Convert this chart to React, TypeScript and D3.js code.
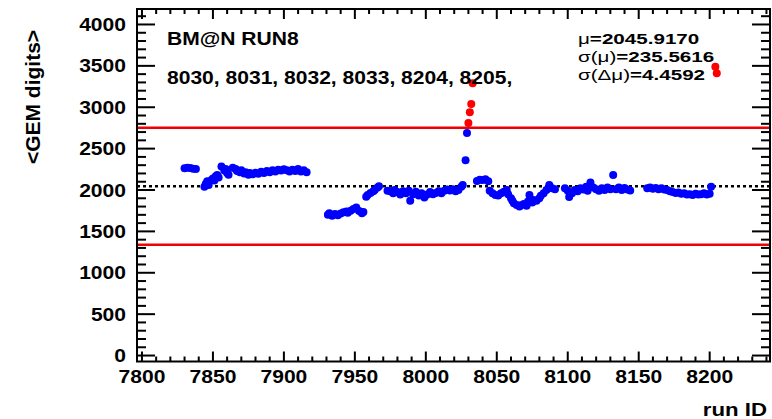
import React from "react";
import * as d3 from "d3";

// ---- data ----
const blueRuns = [
  7830, 7832, 7834, 7836, 7838,
  7844, 7845, 7846, 7847, 7849, 7850, 7851, 7852, 7853, 7854,
  7856, 7858, 7859, 7860, 7861,
  7864, 7866, 7867, 7869, 7870, 7872, 7873, 7875, 7876, 7878, 7880, 7882, 7884, 7886, 7888, 7890, 7892, 7894, 7896, 7898, 7900, 7902, 7904, 7906, 7908, 7910, 7912, 7914, 7916,
  7931, 7932, 7934, 7936, 7938, 7940, 7942, 7944, 7945, 7947, 7949, 7951, 7953, 7955, 7956,
  7958, 7959, 7961, 7963, 7964, 7966, 7967,
  7973, 7975, 7977, 7978, 7980, 7982, 7984, 7986, 7988, 7989, 7991, 7993, 7995, 7997, 7999, 8001, 8003, 8005, 8007, 8009, 8011, 8013, 8015, 8017, 8019, 8021, 8023, 8025, 8026,
  8028, 8029,
  8036, 8038, 8040, 8042, 8044,
  8045, 8047, 8049, 8051, 8053, 8055, 8057, 8058,
  8060, 8061, 8062, 8064, 8066, 8067, 8069, 8071, 8072, 8073, 8075, 8076, 8078, 8080, 8081, 8083, 8085, 8087, 8089, 8091,
  8098, 8100, 8101, 8103, 8105, 8107, 8109, 8111, 8113, 8114, 8116, 8118, 8120, 8122, 8124, 8126, 8128, 8130, 8132, 8134, 8136, 8138, 8140, 8142, 8144,
  8156, 8158, 8160, 8162, 8164, 8166, 8168, 8170, 8172, 8174, 8176, 8178, 8180, 8182, 8184, 8186, 8188, 8190, 8192, 8194, 8196, 8198, 8200, 8201,
];
const blueDigits = [
  2262, 2268, 2265, 2258, 2255,
  2040, 2075, 2105, 2060, 2120, 2140, 2115, 2165, 2180, 2150,
  2285, 2235, 2255, 2205, 2185,
  2270, 2255, 2230, 2215, 2240, 2200, 2215, 2185, 2205, 2190, 2210, 2195, 2220, 2205, 2230, 2215, 2240, 2225, 2245, 2235, 2250, 2240, 2225, 2245, 2230, 2255, 2225, 2240, 2215,
  1700, 1720, 1690, 1710, 1695, 1715, 1730, 1740, 1725, 1750, 1770, 1790, 1745, 1720, 1735,
  1920, 1940, 1965, 1985, 2000, 2030, 2045,
  1990, 1985, 1960, 2000, 1975, 1945, 1985, 1960, 1990, 1870, 1950, 1980, 1935, 1960, 1910, 1945, 1975, 1950, 1965, 1985, 1960, 1990, 2005, 1995, 2010, 1985, 2000, 2040, 2060,
  2360, 2690,
  2110, 2125, 2120, 2130, 2105,
  1990, 1960, 1940, 1935, 1960, 1980, 2000, 1950,
  1900, 1870, 1840, 1820, 1800, 1815, 1830, 1810, 1860, 1940, 1850, 1880, 1870, 1900, 1930, 1960, 2000, 2060, 2020, 2010,
  2020, 1990, 1915, 1960, 2000, 1985, 2020, 2005, 2040, 1990, 2090, 2030, 2010, 1990, 2020, 2000, 2030, 2010, 2180, 2010, 2030, 2000, 2025, 2005, 1995,
  2020, 2030, 2015, 2025, 2010, 2020, 2005, 2000, 1985, 1975, 1965, 1970, 1955, 1960, 1945, 1950, 1940, 1955, 1945, 1950, 1960, 1945, 1955, 2040,
];
const redRuns = [8030, 8031, 8032, 8033, 8204, 8205];
const redDigits = [2810, 2940, 3040, 3290, 3490, 3410];

const meanValue = 2045.917;
const sigmaValue = 235.5616;
const xTickValues = [7800, 7850, 7900, 7950, 8000, 8050, 8100, 8150, 8200];
const yTickValues = [0, 500, 1000, 1500, 2000, 2500, 3000, 3500, 4000];

// ---- layout ----
const W = 772;
const H = 419;
const L = 137, R = 770, T = 9, B = 361.5;
const SX = 1.17;
const FONT = "'Liberation Sans', Arial, Helvetica, sans-serif";

const x = d3.scaleLinear().domain([7796.5, 8242.5]).range([L, R]);
const y = d3.scaleLinear().domain([-72, 4187]).range([B, T]);

const xMinor = d3.range(7800, 8242, 10).filter((v) => v % 50 !== 0);
const yMinor = d3.range(0, 4187, 100).filter((v) => v % 500 !== 0);

function Txt(props: { x: number; y: number; anchor?: string; size: number; children: any; weight?: string | number; sx?: number }) {
  return (
    <text
      transform={`translate(${props.x},${props.y}) scale(${props.sx ?? SX},1)`}
      textAnchor={props.anchor || "start"}
      fontSize={props.size}
      fontWeight={props.weight ?? "bold"}
      fontFamily={FONT}
      fill="#000"
    >
      {props.children}
    </text>
  );
}

export default function App() {
  const upper = meanValue + 3 * sigmaValue;
  const lower = meanValue - 3 * sigmaValue;
  return (
    <svg width={W} height={H} style={{ position: "absolute", left: 0, top: 0, background: "#fff" }}>
      <rect x={0} y={0} width={W} height={H} fill="#fff" />
      {/* reference lines */}
      <line x1={L} x2={R} y1={y(upper)} y2={y(upper)} stroke="#f00000" strokeWidth={2.5} />
      <line x1={L} x2={R} y1={y(lower)} y2={y(lower)} stroke="#f00000" strokeWidth={2.5} />
      <line x1={L} x2={R} y1={y(meanValue)} y2={y(meanValue)} stroke="#000" strokeWidth={2.5} strokeDasharray="3,3" />

      {/* points */}
      {blueRuns.map((r, i) => (
        <circle key={"b" + i} cx={x(r)} cy={y(blueDigits[i])} r={4} fill="#0000ff" />
      ))}
      {redRuns.map((r, i) => (
        <circle key={"r" + i} cx={x(r)} cy={y(redDigits[i])} r={4} fill="#ff0000" />
      ))}

      {/* frame */}
      <rect x={L} y={T} width={R - L} height={B - T} fill="none" stroke="#000" strokeWidth={2} />

      {/* x ticks */}
      {xTickValues.map((v) => (
        <g key={"xt" + v}>
          <line x1={x(v)} x2={x(v)} y1={B} y2={B - 10} stroke="#000" strokeWidth={2} />
          <line x1={x(v)} x2={x(v)} y1={T} y2={T + 10} stroke="#000" strokeWidth={2} />
        </g>
      ))}
      {xMinor.map((v) => (
        <g key={"xm" + v}>
          <line x1={x(v)} x2={x(v)} y1={B} y2={B - 5} stroke="#000" strokeWidth={2} />
          <line x1={x(v)} x2={x(v)} y1={T} y2={T + 5} stroke="#000" strokeWidth={2} />
        </g>
      ))}
      {/* y ticks */}
      {yTickValues.map((v) => (
        <g key={"yt" + v}>
          <line x1={L} x2={L + 18} y1={y(v)} y2={y(v)} stroke="#000" strokeWidth={2} />
          <line x1={R} x2={R - 18} y1={y(v)} y2={y(v)} stroke="#000" strokeWidth={2} />
        </g>
      ))}
      {yMinor.map((v) => (
        <g key={"ym" + v}>
          <line x1={L} x2={L + 9} y1={y(v)} y2={y(v)} stroke="#000" strokeWidth={2} />
          <line x1={R} x2={R - 9} y1={y(v)} y2={y(v)} stroke="#000" strokeWidth={2} />
        </g>
      ))}

      {/* tick labels */}
      {xTickValues.map((v) => (
        <Txt key={"xl" + v} x={x(v)} y={383} anchor="middle" size={18}>
          {String(v)}
        </Txt>
      ))}
      {yTickValues.map((v) => (
        <Txt key={"yl" + v} x={126} y={y(v) + 6.5} anchor="end" size={18}>
          {String(v)}
        </Txt>
      ))}

      {/* axis titles */}
      <text
        transform={`translate(40,97) rotate(-90)`}
        textAnchor="middle"
        fontSize={21}
        fontWeight="bold"
        fontFamily={FONT}
      >
        {"<GEM digits>"}
      </text>
      <Txt x={767} y={416} anchor="end" size={19}>
        run ID
      </Txt>

      {/* annotations */}
      <Txt x={167} y={45} size={18}>BM@N RUN8</Txt>
      <Txt x={167} y={84} size={18}>{redRuns.map((r) => r + ", ").join("").trimEnd()}</Txt>

      <Txt x={578} y={44} size={15.5} sx={1.33}>
        <tspan fontWeight="normal">μ</tspan>=2045.9170
      </Txt>
      <Txt x={578} y={62} size={15.5} sx={1.33}>
        <tspan fontWeight="normal">σ(μ)</tspan>=235.5616
      </Txt>
      <Txt x={578} y={80} size={15.5} sx={1.33}>
        <tspan fontWeight="normal">σ(Δμ)</tspan>=4.4592
      </Txt>
    </svg>
  );
}
